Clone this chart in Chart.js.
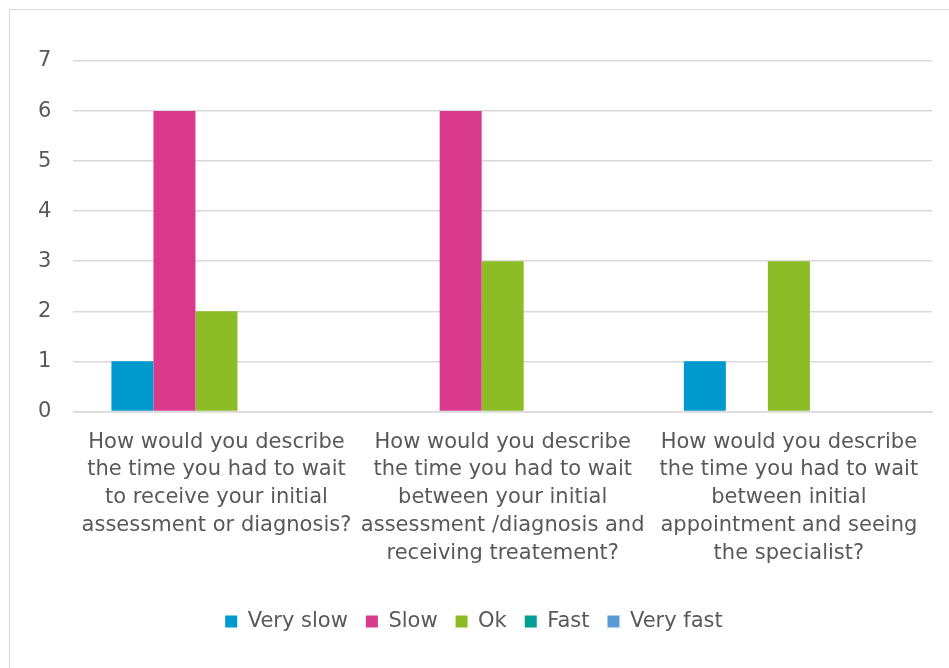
<!DOCTYPE html>
<html>
<head>
<meta charset="utf-8">
<script src="https://cdn.jsdelivr.net/npm/chart.js@4.4.0/dist/chart.umd.min.js"></script>
<style>
  html, body { margin: 0; padding: 0; background: #fff; overflow: hidden; }
  #frame { position: absolute; left: 9px; top: 9px; width: 1000px; height: 720px; border: 1px solid #d9d9d9; box-sizing: border-box; }
  #wrap { position: absolute; left: 0; top: 0; width: 949px; height: 668px; }
</style>
</head>
<body>
<div id="frame"></div>
<div id="wrap"><canvas id="waitChart" width="949" height="668"></canvas></div>
<script>
  // Survey answers per question
  const questions = [
    ["How would you describe", "the time you had to wait", "to receive your initial", "assessment or diagnosis?"],
    ["How would you describe", "the time you had to wait", "between your initial", "assessment /diagnosis and", "receiving treatement?"],
    ["How would you describe", "the time you had to wait", "between initial", "appointment and seeing", "the specialist?"]
  ];
  const seriesNames = ["Very slow", "Slow", "Ok", "Fast", "Very fast"];
  const verySlow = [1, 0, 1];
  const slow = [6, 6, 0];
  const ok = [2, 3, 3];
  const fast = [0, 0, 0];
  const veryFast = [0, 0, 0];
  const yTicks = [0, 1, 2, 3, 4, 5, 6, 7];

  const colours = ["#0099ce", "#da3a8c", "#8cbd26", "#009e94", "#5b9bd5"];
  const values = [verySlow, slow, ok, fast, veryFast];
  const font = "'DejaVu Sans', sans-serif";

  new Chart(document.getElementById("waitChart"), {
    type: "bar",
    data: {
      labels: questions,
      datasets: seriesNames.map((name, i) => ({
        label: name,
        data: values[i],
        backgroundColor: colours[i],
        borderWidth: 0,
        barPercentage: 1,
        categoryPercentage: 0.734
      }))
    },
    options: {
      responsive: false,
      animation: false,
      layout: { padding: { left: 16, right: 17, top: 61, bottom: 26 } },
      plugins: {
        tooltip: { enabled: false },
        legend: {
          position: "bottom",
          labels: {
            boxWidth: 12, boxHeight: 12, padding: 18,
            color: "#595959",
            font: { family: font, size: 21 }
          }
        }
      },
      scales: {
        x: {
          grid: { display: false },
          border: { color: "#d9d9d9", width: 1.5 },
          afterFit: axis => { axis.height += 17; },
          ticks: {
            color: "#595959", maxRotation: 0, autoSkip: false, padding: 9,
            font: { family: font, size: 21, lineHeight: 1.32 }
          }
        },
        y: {
          min: 0, max: 7,
          afterBuildTicks: axis => { axis.ticks = yTicks.map(v => ({ value: v })); },
          grid: { color: "#d9d9d9", lineWidth: 1.5, drawTicks: false },
          border: { display: false },
          ticks: {
            color: "#595959", padding: 22,
            font: { family: font, size: 21 }
          }
        }
      }
    }
  });
</script>
</body>
</html>
